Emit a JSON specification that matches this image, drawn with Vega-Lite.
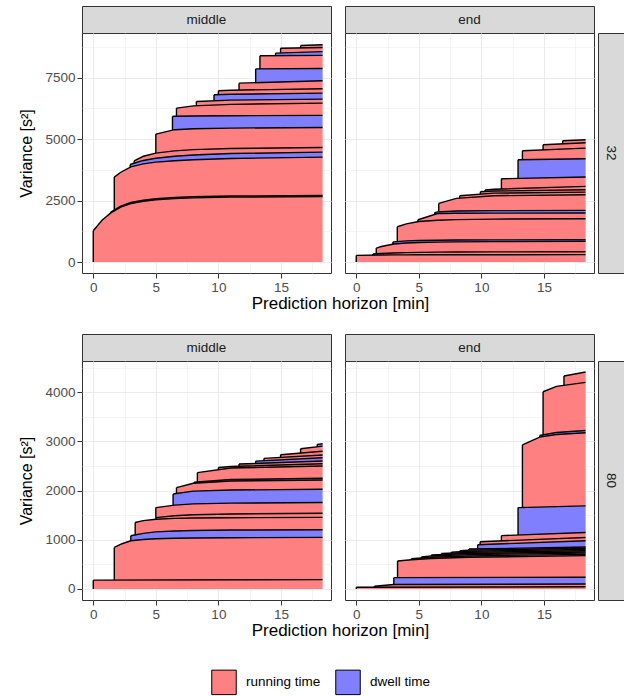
{
"$schema": "https://vega.github.io/schema/vega-lite/v6.json",
"padding": {"left": 18, "top": 5, "right": 2, "bottom": 0},
"config": {
  "font": "Liberation Sans",
  "view": {"stroke": "#333333", "strokeWidth": 1},
  "axis": {"labelFontSize": 13.5, "labelColor": "#4D4D4D", "tickColor": "#333333", "tickSize": 5, "tickWidth": 1, "labelPadding": 2, "gridColor": "#EBEBEB", "domain": false, "titleFontSize": 16, "titleFontWeight": "normal", "titleColor": "#000000", "labelOverlap": false, "labelFlush": false},
  "title": {"fontSize": 17, "fontWeight": "normal", "color": "#000000"},
  "legend": {"layout": {"bottom": {"anchor": "middle"}}}
},
"datasets": {
"A": [
{"k":1,"t":"running time","x":0,"lo":0,"hi":1272},
{"k":1,"t":"running time","x":0.7,"lo":0,"hi":1700},
{"k":1,"t":"running time","x":1.4,"lo":0,"hi":2000},
{"k":1,"t":"running time","x":2.2,"lo":0,"hi":2230},
{"k":1,"t":"running time","x":3,"lo":0,"hi":2380},
{"k":1,"t":"running time","x":4,"lo":0,"hi":2470},
{"k":1,"t":"running time","x":5,"lo":0,"hi":2530},
{"k":1,"t":"running time","x":6.5,"lo":0,"hi":2580},
{"k":1,"t":"running time","x":8,"lo":0,"hi":2610},
{"k":1,"t":"running time","x":11,"lo":0,"hi":2640},
{"k":1,"t":"running time","x":18.33,"lo":0,"hi":2660},
{"k":2,"t":"running time","x":1.4,"lo":2000,"hi":2030},
{"k":2,"t":"running time","x":2.2,"lo":2230,"hi":2268},
{"k":2,"t":"running time","x":3,"lo":2380,"hi":2420},
{"k":2,"t":"running time","x":4,"lo":2470,"hi":2512},
{"k":2,"t":"running time","x":5,"lo":2530,"hi":2575},
{"k":2,"t":"running time","x":6.5,"lo":2580,"hi":2625},
{"k":2,"t":"running time","x":8,"lo":2610,"hi":2655},
{"k":2,"t":"running time","x":11,"lo":2640,"hi":2686},
{"k":2,"t":"running time","x":18.33,"lo":2660,"hi":2705},
{"k":3,"t":"running time","x":1.68,"lo":2113,"hi":3452},
{"k":3,"t":"running time","x":2.2,"lo":2268,"hi":3650},
{"k":3,"t":"running time","x":3,"lo":2420,"hi":3870},
{"k":3,"t":"running time","x":4,"lo":2512,"hi":3990},
{"k":3,"t":"running time","x":5,"lo":2575,"hi":4060},
{"k":3,"t":"running time","x":6.5,"lo":2625,"hi":4120},
{"k":3,"t":"running time","x":8,"lo":2655,"hi":4160},
{"k":3,"t":"running time","x":11,"lo":2686,"hi":4210},
{"k":3,"t":"running time","x":18.33,"lo":2705,"hi":4265},
{"k":4,"t":"dwell time","x":2.95,"lo":3856,"hi":3955},
{"k":4,"t":"dwell time","x":3,"lo":3870,"hi":3975},
{"k":4,"t":"dwell time","x":4,"lo":3990,"hi":4130},
{"k":4,"t":"dwell time","x":5,"lo":4060,"hi":4220},
{"k":4,"t":"dwell time","x":6.5,"lo":4120,"hi":4300},
{"k":4,"t":"dwell time","x":8,"lo":4160,"hi":4350},
{"k":4,"t":"dwell time","x":11,"lo":4210,"hi":4410},
{"k":4,"t":"dwell time","x":18.33,"lo":4265,"hi":4468},
{"k":5,"t":"running time","x":3.27,"lo":4017,"hi":4117},
{"k":5,"t":"running time","x":4,"lo":4130,"hi":4300},
{"k":5,"t":"running time","x":5,"lo":4220,"hi":4429},
{"k":5,"t":"running time","x":6.5,"lo":4300,"hi":4520},
{"k":5,"t":"running time","x":8,"lo":4350,"hi":4570},
{"k":5,"t":"running time","x":11,"lo":4410,"hi":4615},
{"k":5,"t":"running time","x":18.33,"lo":4468,"hi":4659},
{"k":6,"t":"running time","x":5,"lo":4429,"hi":5200},
{"k":6,"t":"running time","x":6.5,"lo":4520,"hi":5380},
{"k":6,"t":"running time","x":8,"lo":4570,"hi":5420},
{"k":6,"t":"running time","x":11,"lo":4615,"hi":5445},
{"k":6,"t":"running time","x":18.33,"lo":4659,"hi":5470},
{"k":7,"t":"dwell time","x":6.33,"lo":5360,"hi":5917},
{"k":7,"t":"dwell time","x":6.5,"lo":5380,"hi":5925},
{"k":7,"t":"dwell time","x":8,"lo":5420,"hi":5935},
{"k":7,"t":"dwell time","x":11,"lo":5445,"hi":5948},
{"k":7,"t":"dwell time","x":18.33,"lo":5470,"hi":5960},
{"k":8,"t":"running time","x":6.65,"lo":5926,"hi":6256},
{"k":8,"t":"running time","x":8,"lo":5935,"hi":6350},
{"k":8,"t":"running time","x":11,"lo":5948,"hi":6410},
{"k":8,"t":"running time","x":18.33,"lo":5960,"hi":6459},
{"k":9,"t":"running time","x":8.24,"lo":6355,"hi":6527},
{"k":9,"t":"running time","x":11,"lo":6410,"hi":6580},
{"k":9,"t":"running time","x":18.33,"lo":6459,"hi":6621},
{"k":10,"t":"dwell time","x":9.65,"lo":6554,"hi":6798},
{"k":10,"t":"dwell time","x":11,"lo":6580,"hi":6820},
{"k":10,"t":"dwell time","x":18.33,"lo":6621,"hi":6865},
{"k":11,"t":"running time","x":10,"lo":6804,"hi":6960},
{"k":11,"t":"running time","x":11,"lo":6820,"hi":6985},
{"k":11,"t":"running time","x":18.33,"lo":6865,"hi":7043},
{"k":12,"t":"running time","x":11.65,"lo":6990,"hi":7272},
{"k":12,"t":"running time","x":18.33,"lo":7043,"hi":7368},
{"k":13,"t":"dwell time","x":12.98,"lo":7291,"hi":7850},
{"k":13,"t":"dwell time","x":18.33,"lo":7368,"hi":7865},
{"k":14,"t":"running time","x":13.32,"lo":7851,"hi":8383},
{"k":14,"t":"running time","x":18.33,"lo":7865,"hi":8400},
{"k":15,"t":"dwell time","x":14.57,"lo":8387,"hi":8490},
{"k":15,"t":"dwell time","x":18.33,"lo":8400,"hi":8555},
{"k":16,"t":"running time","x":14.97,"lo":8497,"hi":8693},
{"k":16,"t":"running time","x":18.33,"lo":8555,"hi":8720},
{"k":17,"t":"running time","x":16.57,"lo":8706,"hi":8800},
{"k":17,"t":"running time","x":18.33,"lo":8720,"hi":8830}
],
"B": [
{"k":1,"t":"running time","x":0,"lo":0,"hi":270},
{"k":1,"t":"running time","x":2,"lo":0,"hi":285},
{"k":1,"t":"running time","x":3,"lo":0,"hi":290},
{"k":1,"t":"running time","x":4,"lo":0,"hi":292},
{"k":1,"t":"running time","x":5,"lo":0,"hi":294},
{"k":1,"t":"running time","x":6.5,"lo":0,"hi":296},
{"k":1,"t":"running time","x":8,"lo":0,"hi":297},
{"k":1,"t":"running time","x":11,"lo":0,"hi":298},
{"k":1,"t":"running time","x":18.33,"lo":0,"hi":300},
{"k":2,"t":"running time","x":1.33,"lo":280,"hi":330},
{"k":2,"t":"running time","x":2,"lo":285,"hi":350},
{"k":2,"t":"running time","x":3,"lo":290,"hi":370},
{"k":2,"t":"running time","x":4,"lo":292,"hi":385},
{"k":2,"t":"running time","x":5,"lo":294,"hi":395},
{"k":2,"t":"running time","x":6.5,"lo":296,"hi":403},
{"k":2,"t":"running time","x":8,"lo":297,"hi":408},
{"k":2,"t":"running time","x":11,"lo":298,"hi":414},
{"k":2,"t":"running time","x":18.33,"lo":300,"hi":420},
{"k":3,"t":"running time","x":1.6,"lo":338,"hi":569},
{"k":3,"t":"running time","x":2,"lo":350,"hi":630},
{"k":3,"t":"running time","x":3,"lo":370,"hi":735},
{"k":3,"t":"running time","x":4,"lo":385,"hi":775},
{"k":3,"t":"running time","x":5,"lo":395,"hi":795},
{"k":3,"t":"running time","x":6.5,"lo":403,"hi":810},
{"k":3,"t":"running time","x":8,"lo":408,"hi":820},
{"k":3,"t":"running time","x":11,"lo":414,"hi":830},
{"k":3,"t":"running time","x":18.33,"lo":420,"hi":841},
{"k":4,"t":"dwell time","x":2.93,"lo":728,"hi":815},
{"k":4,"t":"dwell time","x":3,"lo":735,"hi":822},
{"k":4,"t":"dwell time","x":4,"lo":775,"hi":862},
{"k":4,"t":"dwell time","x":5,"lo":795,"hi":878},
{"k":4,"t":"dwell time","x":6.5,"lo":810,"hi":888},
{"k":4,"t":"dwell time","x":8,"lo":820,"hi":895},
{"k":4,"t":"dwell time","x":11,"lo":830,"hi":902},
{"k":4,"t":"dwell time","x":18.33,"lo":841,"hi":909},
{"k":5,"t":"running time","x":3.28,"lo":833,"hi":1435},
{"k":5,"t":"running time","x":4,"lo":862,"hi":1550},
{"k":5,"t":"running time","x":5,"lo":878,"hi":1650},
{"k":5,"t":"running time","x":6.5,"lo":888,"hi":1700},
{"k":5,"t":"running time","x":8,"lo":895,"hi":1725},
{"k":5,"t":"running time","x":11,"lo":902,"hi":1745},
{"k":5,"t":"running time","x":18.33,"lo":909,"hi":1762},
{"k":6,"t":"running time","x":4.93,"lo":1643,"hi":1715},
{"k":6,"t":"running time","x":5,"lo":1650,"hi":1730},
{"k":6,"t":"running time","x":6.5,"lo":1700,"hi":1975},
{"k":6,"t":"running time","x":8,"lo":1725,"hi":1982},
{"k":6,"t":"running time","x":11,"lo":1745,"hi":1987},
{"k":6,"t":"running time","x":18.33,"lo":1762,"hi":1992},
{"k":7,"t":"dwell time","x":6.27,"lo":1937,"hi":2010},
{"k":7,"t":"dwell time","x":6.5,"lo":1975,"hi":2040},
{"k":7,"t":"dwell time","x":8,"lo":1982,"hi":2075},
{"k":7,"t":"dwell time","x":11,"lo":1987,"hi":2090},
{"k":7,"t":"dwell time","x":18.33,"lo":1992,"hi":2100},
{"k":8,"t":"running time","x":6.59,"lo":2042,"hi":2383},
{"k":8,"t":"running time","x":8,"lo":2075,"hi":2590},
{"k":8,"t":"running time","x":11,"lo":2090,"hi":2695},
{"k":8,"t":"running time","x":18.33,"lo":2100,"hi":2736},
{"k":9,"t":"running time","x":8.27,"lo":2599,"hi":2695},
{"k":9,"t":"running time","x":11,"lo":2695,"hi":2800},
{"k":9,"t":"running time","x":18.33,"lo":2736,"hi":2844},
{"k":10,"t":"running time","x":9.92,"lo":2758,"hi":2860},
{"k":10,"t":"running time","x":11,"lo":2800,"hi":2885},
{"k":10,"t":"running time","x":18.33,"lo":2844,"hi":2939},
{"k":11,"t":"running time","x":10.3,"lo":2869,"hi":2930},
{"k":11,"t":"running time","x":11,"lo":2885,"hi":2960},
{"k":11,"t":"running time","x":18.33,"lo":2939,"hi":3075},
{"k":12,"t":"running time","x":11.6,"lo":2969,"hi":3385},
{"k":12,"t":"running time","x":18.33,"lo":3075,"hi":3454},
{"k":13,"t":"dwell time","x":12.93,"lo":3399,"hi":4157},
{"k":13,"t":"dwell time","x":18.33,"lo":3454,"hi":4199},
{"k":14,"t":"running time","x":13.28,"lo":4160,"hi":4523},
{"k":14,"t":"running time","x":18.33,"lo":4199,"hi":4632},
{"k":15,"t":"running time","x":14.93,"lo":4559,"hi":4767},
{"k":15,"t":"running time","x":18.33,"lo":4632,"hi":4850},
{"k":16,"t":"running time","x":16.5,"lo":4805,"hi":4929},
{"k":16,"t":"running time","x":18.33,"lo":4850,"hi":4970}
],
"C": [
{"k":1,"t":"running time","x":0,"lo":0,"hi":180},
{"k":1,"t":"running time","x":18.33,"lo":0,"hi":190},
{"k":2,"t":"running time","x":1.68,"lo":181,"hi":845},
{"k":2,"t":"running time","x":2.3,"lo":181,"hi":920},
{"k":2,"t":"running time","x":3,"lo":182,"hi":980},
{"k":2,"t":"running time","x":4,"lo":182,"hi":1005},
{"k":2,"t":"running time","x":5,"lo":183,"hi":1020},
{"k":2,"t":"running time","x":6.5,"lo":184,"hi":1030},
{"k":2,"t":"running time","x":8,"lo":184,"hi":1037},
{"k":2,"t":"running time","x":11,"lo":186,"hi":1043},
{"k":2,"t":"running time","x":18.33,"lo":190,"hi":1050},
{"k":3,"t":"dwell time","x":3,"lo":980,"hi":1081},
{"k":3,"t":"dwell time","x":4,"lo":1005,"hi":1130},
{"k":3,"t":"dwell time","x":5,"lo":1020,"hi":1160},
{"k":3,"t":"dwell time","x":6.5,"lo":1030,"hi":1180},
{"k":3,"t":"dwell time","x":8,"lo":1037,"hi":1190},
{"k":3,"t":"dwell time","x":11,"lo":1043,"hi":1198},
{"k":3,"t":"dwell time","x":18.33,"lo":1050,"hi":1205},
{"k":4,"t":"running time","x":3.35,"lo":1098,"hi":1351},
{"k":4,"t":"running time","x":4,"lo":1130,"hi":1390},
{"k":4,"t":"running time","x":5,"lo":1160,"hi":1419},
{"k":4,"t":"running time","x":6.5,"lo":1180,"hi":1435},
{"k":4,"t":"running time","x":8,"lo":1190,"hi":1443},
{"k":4,"t":"running time","x":11,"lo":1198,"hi":1449},
{"k":4,"t":"running time","x":18.33,"lo":1205,"hi":1455},
{"k":5,"t":"running time","x":5,"lo":1419,"hi":1450},
{"k":5,"t":"running time","x":6.5,"lo":1435,"hi":1490},
{"k":5,"t":"running time","x":8,"lo":1443,"hi":1510},
{"k":5,"t":"running time","x":11,"lo":1449,"hi":1525},
{"k":5,"t":"running time","x":18.33,"lo":1455,"hi":1541},
{"k":6,"t":"running time","x":5,"lo":1450,"hi":1655},
{"k":6,"t":"running time","x":6.5,"lo":1490,"hi":1705},
{"k":6,"t":"running time","x":8,"lo":1510,"hi":1730},
{"k":6,"t":"running time","x":11,"lo":1525,"hi":1745},
{"k":6,"t":"running time","x":18.33,"lo":1541,"hi":1757},
{"k":7,"t":"dwell time","x":6.38,"lo":1701,"hi":1926},
{"k":7,"t":"dwell time","x":6.5,"lo":1705,"hi":1935},
{"k":7,"t":"dwell time","x":8,"lo":1730,"hi":1990},
{"k":7,"t":"dwell time","x":11,"lo":1745,"hi":2012},
{"k":7,"t":"dwell time","x":18.33,"lo":1757,"hi":2027},
{"k":8,"t":"running time","x":6.65,"lo":1941,"hi":2061},
{"k":8,"t":"running time","x":8,"lo":1990,"hi":2150},
{"k":8,"t":"running time","x":11,"lo":2012,"hi":2195},
{"k":8,"t":"running time","x":18.33,"lo":2027,"hi":2216},
{"k":9,"t":"dwell time","x":8.06,"lo":2151,"hi":2170},
{"k":9,"t":"dwell time","x":11,"lo":2195,"hi":2225},
{"k":9,"t":"dwell time","x":18.33,"lo":2216,"hi":2250},
{"k":10,"t":"running time","x":8.32,"lo":2175,"hi":2365},
{"k":10,"t":"running time","x":11,"lo":2225,"hi":2460},
{"k":10,"t":"running time","x":18.33,"lo":2250,"hi":2500},
{"k":11,"t":"running time","x":10,"lo":2425,"hi":2470},
{"k":11,"t":"running time","x":11,"lo":2460,"hi":2490},
{"k":11,"t":"running time","x":18.33,"lo":2500,"hi":2547},
{"k":12,"t":"running time","x":11.65,"lo":2495,"hi":2540},
{"k":12,"t":"running time","x":18.33,"lo":2547,"hi":2601},
{"k":13,"t":"dwell time","x":12.98,"lo":2552,"hi":2600},
{"k":13,"t":"dwell time","x":18.33,"lo":2601,"hi":2669},
{"k":14,"t":"running time","x":13.64,"lo":2609,"hi":2655},
{"k":14,"t":"running time","x":18.33,"lo":2669,"hi":2723},
{"k":15,"t":"running time","x":14.97,"lo":2674,"hi":2730},
{"k":15,"t":"running time","x":18.33,"lo":2723,"hi":2800},
{"k":16,"t":"running time","x":16.57,"lo":2763,"hi":2850},
{"k":16,"t":"running time","x":18.33,"lo":2800,"hi":2905},
{"k":17,"t":"dwell time","x":17.9,"lo":2892,"hi":2940},
{"k":17,"t":"dwell time","x":18.33,"lo":2905,"hi":2953}
],
"D": [
{"k":1,"t":"running time","x":0,"lo":0,"hi":34},
{"k":1,"t":"running time","x":18.33,"lo":0,"hi":45},
{"k":2,"t":"running time","x":1.45,"lo":35,"hi":55},
{"k":2,"t":"running time","x":3,"lo":36,"hi":90},
{"k":2,"t":"running time","x":18.33,"lo":45,"hi":100},
{"k":3,"t":"dwell time","x":3,"lo":90,"hi":230},
{"k":3,"t":"dwell time","x":18.33,"lo":100,"hi":240},
{"k":4,"t":"running time","x":3.3,"lo":230,"hi":570},
{"k":4,"t":"running time","x":4.4,"lo":231,"hi":595},
{"k":4,"t":"running time","x":6,"lo":232,"hi":620},
{"k":4,"t":"running time","x":9,"lo":234,"hi":645},
{"k":4,"t":"running time","x":18.33,"lo":240,"hi":678},
{"k":5,"t":"running time","x":4.4,"lo":595,"hi":615},
{"k":5,"t":"running time","x":6,"lo":620,"hi":645},
{"k":5,"t":"running time","x":9,"lo":645,"hi":672},
{"k":5,"t":"running time","x":18.33,"lo":678,"hi":703},
{"k":6,"t":"running time","x":5.2,"lo":630,"hi":650},
{"k":6,"t":"running time","x":6,"lo":645,"hi":672},
{"k":6,"t":"running time","x":9,"lo":672,"hi":698},
{"k":6,"t":"running time","x":18.33,"lo":703,"hi":728},
{"k":7,"t":"running time","x":6,"lo":672,"hi":692},
{"k":7,"t":"running time","x":9,"lo":698,"hi":722},
{"k":7,"t":"running time","x":18.33,"lo":728,"hi":753},
{"k":8,"t":"running time","x":6.8,"lo":700,"hi":720},
{"k":8,"t":"running time","x":9,"lo":722,"hi":745},
{"k":8,"t":"running time","x":18.33,"lo":753,"hi":778},
{"k":9,"t":"running time","x":7.6,"lo":729,"hi":750},
{"k":9,"t":"running time","x":9,"lo":745,"hi":768},
{"k":9,"t":"running time","x":18.33,"lo":778,"hi":803},
{"k":10,"t":"running time","x":8.3,"lo":759,"hi":780},
{"k":10,"t":"running time","x":9,"lo":768,"hi":790},
{"k":10,"t":"running time","x":18.33,"lo":803,"hi":828},
{"k":11,"t":"running time","x":9,"lo":790,"hi":812},
{"k":11,"t":"running time","x":18.33,"lo":828,"hi":853},
{"k":12,"t":"dwell time","x":9.7,"lo":815,"hi":900},
{"k":12,"t":"dwell time","x":18.33,"lo":853,"hi":980},
{"k":13,"t":"running time","x":9.9,"lo":902,"hi":960},
{"k":13,"t":"running time","x":18.33,"lo":980,"hi":1047},
{"k":14,"t":"running time","x":11.6,"lo":978,"hi":1085},
{"k":14,"t":"running time","x":18.33,"lo":1047,"hi":1149},
{"k":15,"t":"dwell time","x":12.93,"lo":1098,"hi":1655},
{"k":15,"t":"dwell time","x":18.33,"lo":1149,"hi":1689},
{"k":16,"t":"running time","x":13.28,"lo":1657,"hi":2930},
{"k":16,"t":"running time","x":14.66,"lo":1666,"hi":3087},
{"k":16,"t":"running time","x":16,"lo":1674,"hi":3140},
{"k":16,"t":"running time","x":18.33,"lo":1689,"hi":3176},
{"k":17,"t":"dwell time","x":14.66,"lo":3087,"hi":3120},
{"k":17,"t":"dwell time","x":16,"lo":3140,"hi":3180},
{"k":17,"t":"dwell time","x":18.33,"lo":3176,"hi":3223},
{"k":18,"t":"running time","x":14.93,"lo":3132,"hi":4010},
{"k":18,"t":"running time","x":16,"lo":3180,"hi":4120},
{"k":18,"t":"running time","x":18.33,"lo":3223,"hi":4200},
{"k":19,"t":"running time","x":16.6,"lo":4141,"hi":4330},
{"k":19,"t":"running time","x":18.33,"lo":4200,"hi":4412}
]
},
"spacing": 21,
"vconcat": [
{
 "spacing": 12,
 "title": {"text": "Prediction horizon [min]", "orient": "bottom", "anchor": "middle", "fontSize": 17, "offset": 2, "dx": 19},
 "hconcat": [
  {"spacing": 0, "bounds": "flush", "vconcat": [
   {"width": 249, "height": 27, "view": {"fill": "#D9D9D9", "stroke": "#333333"}, "data": {"values": [{"lab": "middle"}]}, "mark": {"type": "text", "fontSize": 13.5, "color": "#1A1A1A", "baseline": "middle"}, "encoding": {"text": {"field": "lab", "type": "nominal"}}},
   {"width": 249, "height": 240, "data": {"name": "A"},
    "encoding": {
     "x": {"field": "x", "type": "quantitative", "scale": {"domain": [-0.9, 19.0], "nice": false, "zero": false}, "axis": {"title": null, "format": "d", "values": [0,2.5,5,7.5,10,12.5,15,17.5], "labelExpr": "datum.value % 5 === 0 ? datum.label : ''", "tickOpacity": {"condition": {"test": "datum.value % 5 === 0", "value": 1}, "value": 0}, "gridWidth": {"condition": {"test": "datum.value % 5 === 0", "value": 1.1}, "value": 0.55}}},
     "y": {"field": "hi", "type": "quantitative", "scale": {"domain": [-445, 9310], "nice": false, "zero": false}, "axis": {"title": "Variance [s²]", "titlePadding": 10, "format": "d", "values": [0,1250,2500,3750,5000,6250,7500,8750], "labelExpr": "datum.value % 2500 === 0 ? datum.label : ''", "tickOpacity": {"condition": {"test": "datum.value % 2500 === 0", "value": 1}, "value": 0}, "gridWidth": {"condition": {"test": "datum.value % 2500 === 0", "value": 1.1}, "value": 0.55}}}
    },
    "layer": [
     {"mark": {"type": "area", "opacity": 1},
      "encoding": {
       "y2": {"field": "lo"},
       "color": {"field": "t", "type": "nominal", "scale": {"domain": ["running time", "dwell time"], "range": ["#FF8080", "#8080FF"]}, "legend": {"title": null, "orient": "bottom", "direction": "horizontal", "symbolType": "square", "symbolSize": 600, "symbolStrokeColor": "black", "symbolStrokeWidth": 1, "symbolOpacity": 1, "labelFontSize": 13.5, "labelColor": "#000000", "labelOffset": 9, "columnPadding": 12, "offset": 30}},
       "detail": {"field": "k", "type": "nominal"}
      }},
     {"mark": {"type": "line", "color": "black", "strokeWidth": 1.4},
      "encoding": {"detail": {"field": "k", "type": "nominal"}}},
     {"transform": [{"window": [{"op": "row_number", "as": "rn"}], "groupby": ["k"], "sort": [{"field": "x", "order": "ascending"}]}, {"filter": "datum.rn == 1"}],
      "mark": {"type": "rule", "color": "black", "strokeWidth": 1.4},
      "encoding": {"y2": {"field": "lo"}}}
    ]}
  ]},
  {"spacing": 0, "bounds": "flush", "vconcat": [
   {"width": 249, "height": 27, "view": {"fill": "#D9D9D9", "stroke": "#333333"}, "data": {"values": [{"lab": "end"}]}, "mark": {"type": "text", "fontSize": 13.5, "color": "#1A1A1A", "baseline": "middle"}, "encoding": {"text": {"field": "lab", "type": "nominal"}}},
   {"spacing": 2, "hconcat": [
    {"width": 249, "height": 240, "data": {"name": "B"},
     "encoding": {
      "x": {"field": "x", "type": "quantitative", "scale": {"domain": [-0.9, 19.0], "nice": false, "zero": false}, "axis": {"title": null, "format": "d", "values": [0,2.5,5,7.5,10,12.5,15,17.5], "labelExpr": "datum.value % 5 === 0 ? datum.label : ''", "tickOpacity": {"condition": {"test": "datum.value % 5 === 0", "value": 1}, "value": 0}, "gridWidth": {"condition": {"test": "datum.value % 5 === 0", "value": 1.1}, "value": 0.55}}},
      "y": {"field": "hi", "type": "quantitative", "scale": {"domain": [-445, 9310], "nice": false, "zero": false}, "axis": {"title": null, "labels": false, "ticks": false, "values": [0,1250,2500,3750,5000,6250,7500,8750], "gridWidth": {"condition": {"test": "datum.value % 2500 === 0", "value": 1.1}, "value": 0.55}}}
     },
     "layer": [
      {"mark": {"type": "area", "opacity": 1},
       "encoding": {
        "y2": {"field": "lo"},
        "color": {"field": "t", "type": "nominal", "scale": {"domain": ["running time", "dwell time"], "range": ["#FF8080", "#8080FF"]}, "legend": {"title": null, "orient": "bottom", "direction": "horizontal", "symbolType": "square", "symbolSize": 600, "symbolStrokeColor": "black", "symbolStrokeWidth": 1, "symbolOpacity": 1, "labelFontSize": 13.5, "labelColor": "#000000", "labelOffset": 9, "columnPadding": 12, "offset": 30}},
        "detail": {"field": "k", "type": "nominal"}
       }},
      {"mark": {"type": "line", "color": "black", "strokeWidth": 1.4},
       "encoding": {"detail": {"field": "k", "type": "nominal"}}},
      {"transform": [{"window": [{"op": "row_number", "as": "rn"}], "groupby": ["k"], "sort": [{"field": "x", "order": "ascending"}]}, {"filter": "datum.rn == 1"}],
       "mark": {"type": "rule", "color": "black", "strokeWidth": 1.4},
       "encoding": {"y2": {"field": "lo"}}}
     ]},
    {"width": 26, "height": 240, "view": {"fill": "#D9D9D9", "stroke": "#333333"}, "data": {"values": [{"lab": "32"}]}, "mark": {"type": "text", "fontSize": 13.5, "color": "#1A1A1A", "baseline": "middle", "angle": 90}, "encoding": {"text": {"field": "lab", "type": "nominal"}}}
   ]}
  ]}
 ]
},
{
 "spacing": 12,
 "title": {"text": "Prediction horizon [min]", "orient": "bottom", "anchor": "middle", "fontSize": 17, "offset": 2, "dx": 19},
 "hconcat": [
  {"spacing": 0, "bounds": "flush", "vconcat": [
   {"width": 249, "height": 27, "view": {"fill": "#D9D9D9", "stroke": "#333333"}, "data": {"values": [{"lab": "middle"}]}, "mark": {"type": "text", "fontSize": 13.5, "color": "#1A1A1A", "baseline": "middle"}, "encoding": {"text": {"field": "lab", "type": "nominal"}}},
   {"width": 249, "height": 239, "data": {"name": "C"},
    "encoding": {
     "x": {"field": "x", "type": "quantitative", "scale": {"domain": [-0.9, 19.0], "nice": false, "zero": false}, "axis": {"title": null, "format": "d", "values": [0,2.5,5,7.5,10,12.5,15,17.5], "labelExpr": "datum.value % 5 === 0 ? datum.label : ''", "tickOpacity": {"condition": {"test": "datum.value % 5 === 0", "value": 1}, "value": 0}, "gridWidth": {"condition": {"test": "datum.value % 5 === 0", "value": 1.1}, "value": 0.55}}},
     "y": {"field": "hi", "type": "quantitative", "scale": {"domain": [-224, 4635], "nice": false, "zero": false}, "axis": {"title": "Variance [s²]", "titlePadding": 10, "format": "d", "values": [0,500,1000,1500,2000,2500,3000,3500,4000,4500], "labelExpr": "datum.value % 1000 === 0 ? datum.label : ''", "tickOpacity": {"condition": {"test": "datum.value % 1000 === 0", "value": 1}, "value": 0}, "gridWidth": {"condition": {"test": "datum.value % 1000 === 0", "value": 1.1}, "value": 0.55}}}
    },
    "layer": [
     {"mark": {"type": "area", "opacity": 1},
      "encoding": {
       "y2": {"field": "lo"},
       "color": {"field": "t", "type": "nominal", "scale": {"domain": ["running time", "dwell time"], "range": ["#FF8080", "#8080FF"]}, "legend": {"title": null, "orient": "bottom", "direction": "horizontal", "symbolType": "square", "symbolSize": 600, "symbolStrokeColor": "black", "symbolStrokeWidth": 1, "symbolOpacity": 1, "labelFontSize": 13.5, "labelColor": "#000000", "labelOffset": 9, "columnPadding": 12, "offset": 30}},
       "detail": {"field": "k", "type": "nominal"}
      }},
     {"mark": {"type": "line", "color": "black", "strokeWidth": 1.4},
      "encoding": {"detail": {"field": "k", "type": "nominal"}}},
     {"transform": [{"window": [{"op": "row_number", "as": "rn"}], "groupby": ["k"], "sort": [{"field": "x", "order": "ascending"}]}, {"filter": "datum.rn == 1"}],
      "mark": {"type": "rule", "color": "black", "strokeWidth": 1.4},
      "encoding": {"y2": {"field": "lo"}}}
    ]}
  ]},
  {"spacing": 0, "bounds": "flush", "vconcat": [
   {"width": 249, "height": 27, "view": {"fill": "#D9D9D9", "stroke": "#333333"}, "data": {"values": [{"lab": "end"}]}, "mark": {"type": "text", "fontSize": 13.5, "color": "#1A1A1A", "baseline": "middle"}, "encoding": {"text": {"field": "lab", "type": "nominal"}}},
   {"spacing": 2, "hconcat": [
    {"width": 249, "height": 239, "data": {"name": "D"},
     "encoding": {
      "x": {"field": "x", "type": "quantitative", "scale": {"domain": [-0.9, 19.0], "nice": false, "zero": false}, "axis": {"title": null, "format": "d", "values": [0,2.5,5,7.5,10,12.5,15,17.5], "labelExpr": "datum.value % 5 === 0 ? datum.label : ''", "tickOpacity": {"condition": {"test": "datum.value % 5 === 0", "value": 1}, "value": 0}, "gridWidth": {"condition": {"test": "datum.value % 5 === 0", "value": 1.1}, "value": 0.55}}},
      "y": {"field": "hi", "type": "quantitative", "scale": {"domain": [-224, 4635], "nice": false, "zero": false}, "axis": {"title": null, "labels": false, "ticks": false, "values": [0,500,1000,1500,2000,2500,3000,3500,4000,4500], "gridWidth": {"condition": {"test": "datum.value % 1000 === 0", "value": 1.1}, "value": 0.55}}}
     },
     "layer": [
      {"mark": {"type": "area", "opacity": 1},
       "encoding": {
        "y2": {"field": "lo"},
        "color": {"field": "t", "type": "nominal", "scale": {"domain": ["running time", "dwell time"], "range": ["#FF8080", "#8080FF"]}, "legend": {"title": null, "orient": "bottom", "direction": "horizontal", "symbolType": "square", "symbolSize": 600, "symbolStrokeColor": "black", "symbolStrokeWidth": 1, "symbolOpacity": 1, "labelFontSize": 13.5, "labelColor": "#000000", "labelOffset": 9, "columnPadding": 12, "offset": 30}},
        "detail": {"field": "k", "type": "nominal"}
       }},
      {"mark": {"type": "line", "color": "black", "strokeWidth": 1.4},
       "encoding": {"detail": {"field": "k", "type": "nominal"}}},
      {"transform": [{"window": [{"op": "row_number", "as": "rn"}], "groupby": ["k"], "sort": [{"field": "x", "order": "ascending"}]}, {"filter": "datum.rn == 1"}],
       "mark": {"type": "rule", "color": "black", "strokeWidth": 1.4},
       "encoding": {"y2": {"field": "lo"}}}
     ]},
    {"width": 26, "height": 239, "view": {"fill": "#D9D9D9", "stroke": "#333333"}, "data": {"values": [{"lab": "80"}]}, "mark": {"type": "text", "fontSize": 13.5, "color": "#1A1A1A", "baseline": "middle", "angle": 90}, "encoding": {"text": {"field": "lab", "type": "nominal"}}}
   ]}
  ]}
 ]
}
]
}
